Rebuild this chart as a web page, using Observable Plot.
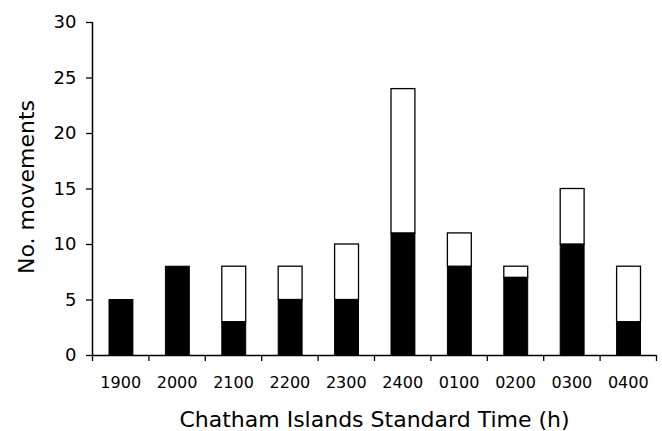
<!DOCTYPE html>
<html>
<head>
<meta charset="utf-8">
<script src="https://cdn.jsdelivr.net/npm/d3@7"></script>
<script src="https://cdn.jsdelivr.net/npm/@observablehq/plot@0.6"></script>
<style>
  html, body { margin: 0; padding: 0; background: #fff; }
  svg { font-family: "DejaVu Sans", sans-serif; }
</style>
</head>
<body>
<div id="chart"></div>
<script>
const times = ["1900", "2000", "2100", "2200", "2300", "2400", "0100", "0200", "0300", "0400"];
const blackCounts = [5, 8, 3, 5, 5, 11, 8, 7, 10, 3];
const whiteCounts = [0, 0, 5, 3, 5, 13, 3, 1, 5, 5];
const yTicks = [0, 5, 10, 15, 20, 25, 30];

const rows = times.map((t, i) => ({i, t, black: blackCounts[i], white: whiteCounts[i]}));
const boundaries = d3.range(times.length + 1);

const chart = Plot.plot({
  width: 662,
  height: 431,
  marginLeft: 92,
  marginRight: 6,
  marginTop: 22,
  marginBottom: 76,
  x: {type: "linear", domain: [0, times.length], axis: null},
  y: {type: "linear", domain: [0, 30], axis: null},
  marks: [
    Plot.rectY(rows, {x1: d => d.i, x2: d => d.i + 1, y1: 0, y2: d => d.black,
      insetLeft: 17, insetRight: 15.5, fill: "#000", stroke: "#000", strokeWidth: 1}),
    Plot.rectY(rows.filter(d => d.white > 0), {x1: d => d.i, x2: d => d.i + 1,
      y1: d => d.black, y2: d => d.black + d.white,
      insetLeft: 17, insetRight: 15.5, fill: "#fff", stroke: "#000", strokeWidth: 1.3}),
    Plot.axisY({ticks: yTicks, tickSize: 6, tickPadding: 10, fontSize: 18,
      label: null, stroke: "#000", strokeWidth: 1.3, strokeOpacity: 1}),
    Plot.axisX({ticks: boundaries, tickSize: 6, tickFormat: () => "", label: null,
      stroke: "#000", strokeWidth: 1.3, strokeOpacity: 1}),
    Plot.ruleX([0], {stroke: "#000", strokeWidth: 1.5}),
    Plot.ruleY([0], {stroke: "#000", strokeWidth: 1.5}),
    Plot.text(rows, {x: d => d.i + 0.5, y: 0, text: "t", dy: 27, fontSize: 16, fill: "#000"}),
    Plot.text(["Chatham Islands Standard Time (h)"], {frameAnchor: "bottom", lineAnchor: "middle",
      dy: 64, fontSize: 22, fill: "#000"}),
    Plot.text(["No. movements"], {frameAnchor: "left", textAnchor: "middle", lineAnchor: "middle",
      dx: -66, dy: -2, rotate: -90, fontSize: 22, fill: "#000"})
  ]
});
document.getElementById("chart").appendChild(chart);
</script>
</body>
</html>
